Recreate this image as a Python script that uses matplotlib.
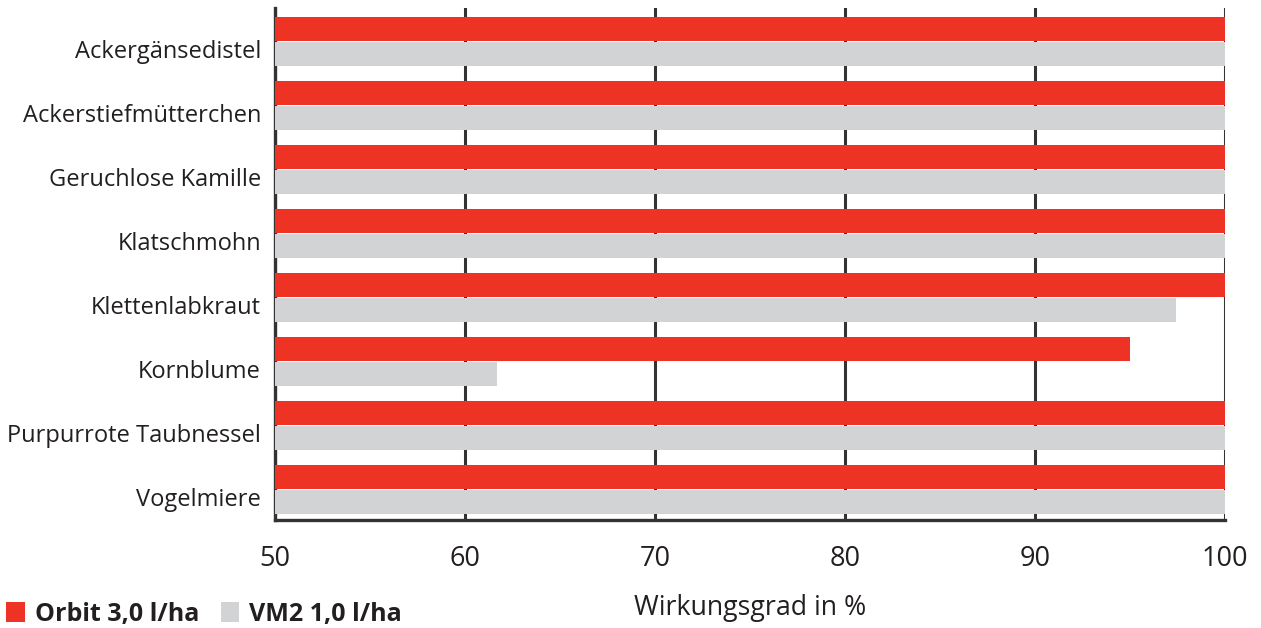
import matplotlib
matplotlib.use("Agg")
import matplotlib.pyplot as plt
from matplotlib.patches import Patch
from matplotlib.transforms import ScaledTranslation
import numpy as np

plt.rcParams['font.family'] = ['Open Sans', 'DejaVu Sans']

categories = [
    "Ackergänsedistel",
    "Ackerstiefmütterchen",
    "Geruchlose Kamille",
    "Klatschmohn",
    "Klettenlabkraut",
    "Kornblume",
    "Purpurrote Taubnessel",
    "Vogelmiere",
]
orbit = [100, 100, 100, 100, 100, 95.0, 100, 100]
vm2 = [100, 100, 100, 100, 97.4, 61.7, 100, 100]
series_labels = ["Orbit 3,0 l/ha", "VM2 1,0 l/ha"]
x_ticks = [50, 60, 70, 80, 90, 100]
x_label = "Wirkungsgrad in %"

RED = "#ee3224"
GREY = "#d1d3d4"
TEXT = "#231f20"
LINE = "#333333"

W, H = 1261, 628
fig = plt.figure(figsize=(W / 100, H / 100), dpi=100)
ax = fig.add_axes([275 / W, 1 - 520 / H, (1225 - 275) / W, (520 - 8) / H])

y = np.arange(len(categories))
bh = 0.375
off = bh / 2 + 0.004
ax.barh(y - off, np.array(orbit) - 50, left=50, height=bh, color=RED, zorder=3)
ax.barh(y + off, np.array(vm2) - 50, left=50, height=bh, color=GREY, zorder=3)

ax.set_xlim(50, 100)
ax.set_ylim(len(categories) - 0.52, -0.52)
ax.set_xticks(x_ticks)
ax.set_xticklabels([str(t) for t in x_ticks], fontsize=19.5, color=TEXT)
ax.set_yticks(y)
ax.set_yticklabels(categories, fontsize=17, color=TEXT)
ax.tick_params(axis='both', length=0)
ax.tick_params(axis='x', pad=18)
ax.tick_params(axis='y', pad=10)

# category labels sit slightly below the centre of each bar pair
shift = ScaledTranslation(0, -8 / 100, fig.dpi_scale_trans)
for lbl in ax.get_yticklabels():
    lbl.set_transform(lbl.get_transform() + shift)

ax.grid(axis='x', color=LINE, linewidth=2.2, zorder=1)
ax.set_axisbelow(True)
for s in ("top", "right"):
    ax.spines[s].set_visible(False)
for s in ("left", "bottom"):
    ax.spines[s].set_color(LINE)
    ax.spines[s].set_linewidth(2.4)
    ax.spines[s].set_zorder(2)

fig.text(750 / W, 1 - 608 / H, x_label, ha='center', va='center',
         fontsize=19.3, color=TEXT)

handles = [Patch(facecolor=RED, edgecolor='none'), Patch(facecolor=GREY, edgecolor='none')]
fig.legend(handles, series_labels, loc='lower left', bbox_to_anchor=(0.0, -0.008),
           ncol=2, frameon=False, handlelength=0.75, handleheight=0.85,
           handletextpad=0.4, columnspacing=0.85,
           prop={'weight': 'bold', 'size': 18}, labelcolor=TEXT,
           borderaxespad=0.05, borderpad=0.2)

fig.savefig("out.png", dpi=100)
